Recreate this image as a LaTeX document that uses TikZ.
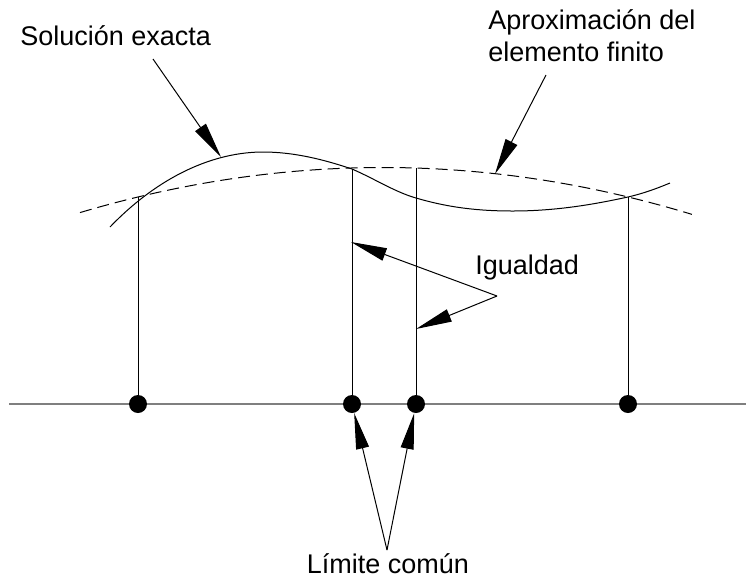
\documentclass[tikz,border=0pt]{standalone}
\usepackage{fontspec}
\setmainfont{Liberation Sans}
\usetikzlibrary{arrows.meta}
\definecolor{axisgrey}{HTML}{7F7F7F}

\begin{document}
\begin{tikzpicture}[x=0.5pt, y=-0.5pt,
  font=\fontsize{13.5}{16}\selectfont,
  pointer/.style={-{Triangle[length=18pt,width=6.5pt]}, line width=0.5pt},
  nodedot/.style={circle, fill=black, inner sep=0pt, minimum size=9pt},
  ordinate/.style={line width=0.5pt},
  caption/.style={inner sep=0pt}]
  \useasboundingbox (0,0) rectangle (746,580);

  % ===== Axis with the element nodes =====
  \coordinate (axL) at (9,404);
  \coordinate (axR) at (746,404);
  \draw[axisgrey, line width=0.8pt] (axL) -- (axR);

  % ===== Exact solution (solid) and FE approximation (dashed) =====
  \draw[line width=0.5pt] (110,227) .. controls (160,175) and (215,152) .. (263,152)
    .. controls (295,152) and (325,160) .. (352,169)
    .. controls (375,179) and (395,192) .. (416,198)
    .. controls (450,208) and (480,211) .. (513,211)
    .. controls (560,211) and (600,203) .. (628,197)
    .. controls (645,193) and (658,188) .. (670,183);
  \draw[line width=0.5pt, dash pattern=on 6pt off 3pt]
    plot[domain=-3.03:3.09, samples=80, variable=\t]
    ({383+100*\t},{167.5+4.91*\t*\t});

  % ===== Ordinates from the nodes up to the curves =====
  \coordinate (t1) at (138,197);
  \coordinate (t2) at (352,169);
  \coordinate (t3) at (416,168);
  \coordinate (t4) at (628,197);
  \node[nodedot] (d1) at (138,404) {};
  \node[nodedot] (d2) at (352,404) {};
  \node[nodedot] (d3) at (416,404) {};
  \node[nodedot] (d4) at (628,404) {};
  \foreach \i in {1,...,4}{
    \draw[ordinate] (t\i) -- (d\i);
  }

  % ===== Labels =====
  \node[caption, anchor=base west] (exacta) at (20,45) {Solución exacta};
  \node[caption, anchor=north west, align=left] (aprox) at (488,9)
       {Aproximación del\\elemento finito};
  \node[caption, anchor=base west] (igual) at (475,274) {Igualdad};
  \node[caption, anchor=base] (limite) at (388,573) {Límite común};

  % ===== Pointers =====
  \coordinate (exactaStart) at (153,59);
  \coordinate (exactaTip) at (221,157);
  \draw[pointer] (exactaStart) -- (exactaTip);

  \coordinate (aproxStart) at (546,75);
  \coordinate (aproxTip) at (495,174);
  \draw[pointer] (aproxStart) -- (aproxTip);

  \coordinate (igualV) at (497,296);
  \coordinate (igualA) at (351,242);
  \coordinate (igualB) at (416,329);
  \draw[pointer] (igualV) -- (igualA);
  \draw[pointer] (igualV) -- (igualB);

  \coordinate (limiteV) at (387,550);
  \draw[pointer] (limiteV) -- (d2);
  \draw[pointer] (limiteV) -- (d3);
\end{tikzpicture}
\end{document}
